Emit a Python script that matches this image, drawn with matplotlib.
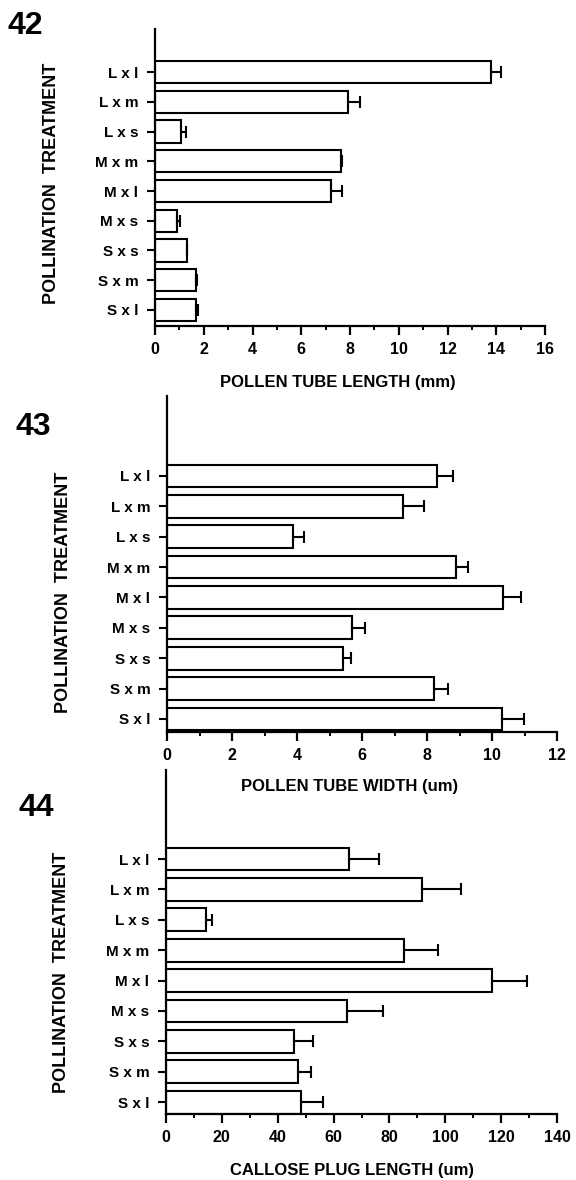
import numpy as np
from matplotlib import pyplot as plt
from matplotlib.ticker import MultipleLocator

plt.rcParams.update({
    "font.family": ["Liberation Sans", "DejaVu Sans"],
    "font.weight": "bold",
    "font.size": 11,
    "axes.linewidth": 1.6,
})

# categories, top to bottom
treatments = ['L x l', 'L x m', 'L x s', 'M x m', 'M x l', 'M x s', 'S x s', 'S x m', 'S x l']

# Fig 42: pollen tube length (mm)
tube_length = [13.8, 7.9, 1.06, 7.62, 7.24, 0.91, 1.3, 1.67, 1.67]
tube_length_err = [0.4, 0.5, 0.23, 0.07, 0.42, 0.11, 0.03, 0.06, 0.09]

# Fig 43: pollen tube width (um)
tube_width = [8.3, 7.27, 3.87, 8.89, 10.34, 5.7, 5.41, 8.23, 10.31]
tube_width_err = [0.51, 0.63, 0.35, 0.36, 0.55, 0.39, 0.25, 0.43, 0.67]

# Fig 44: callose plug length (um)
plug_length = [65.6, 91.8, 14.2, 85.3, 116.6, 64.9, 45.8, 47.1, 48.3]
plug_length_err = [10.8, 13.8, 2.3, 12.2, 12.7, 12.8, 6.9, 4.9, 7.9]

W, H = 576, 1180
fig = plt.figure(figsize=(W / 100, H / 100), dpi=100)


def px_axes(left, right, top, bottom):
    return fig.add_axes([left / W, 1 - bottom / H, (right - left) / W, (bottom - top) / H])


def draw_panel(ax, values, errs, xmax, major, minor, ylim):
    n = len(values)
    ypos = np.arange(n)[::-1]
    ax.barh(ypos, values, height=0.75, color='white', edgecolor='black', linewidth=1.5, zorder=2)
    ax.errorbar(values, ypos, xerr=[np.zeros(n), errs], fmt='none', ecolor='black',
                elinewidth=1.5, capsize=4.5, capthick=1.5, zorder=3)
    ax.set_xlim(0, xmax)
    ax.set_ylim(*ylim)
    ax.set_yticks(ypos)
    ax.set_yticklabels(treatments, fontsize=11, fontweight='bold')
    ax.xaxis.set_major_locator(MultipleLocator(major))
    ax.xaxis.set_minor_locator(MultipleLocator(minor))
    ax.tick_params(axis='y', length=6, width=1.5, pad=6)
    ax.tick_params(axis='x', which='major', length=6.5, width=1.6, pad=5, labelsize=11.5)
    ax.tick_params(axis='x', which='minor', length=3, width=1.4)
    for lab in ax.get_xticklabels():
        lab.set_fontweight('bold')
    ax.spines['top'].set_visible(False)
    ax.spines['right'].set_visible(False)


ax1 = px_axes(155, 545, 29, 326)
draw_panel(ax1, tube_length, tube_length_err, 16, 2, 1, (-0.54, 9.45))
ax2 = px_axes(167, 557, 396, 732)
draw_panel(ax2, tube_width, tube_width_err, 12, 2, 1, (-0.43, 10.63))
ax3 = px_axes(166, 557, 770, 1114)
draw_panel(ax3, plug_length, plug_length_err, 140, 20, 10, (-0.39, 10.93))

# panel numbers
for txt, x, y in [('42', 25, 26), ('43', 33, 427), ('44', 36, 808)]:
    fig.text(x / W, 1 - y / H, txt, fontsize=23, fontweight='bold', ha='center', va='center')

# axis titles
for x, y in [(52, 183), (64, 592), (62, 972)]:
    fig.text(x / W, 1 - y / H, 'POLLINATION  TREATMENT', rotation=90, fontsize=13,
             fontweight='bold', ha='center', va='center')

for txt, x, y in [('POLLEN TUBE LENGTH (mm)', 338, 383),
                  ('POLLEN TUBE WIDTH (um)', 350, 787),
                  ('CALLOSE PLUG LENGTH (um)', 352, 1170)]:
    fig.text(x / W, 1 - y / H, txt, fontsize=12, fontweight='bold', ha='center', va='center')

fig.savefig('out.png', dpi=100)
